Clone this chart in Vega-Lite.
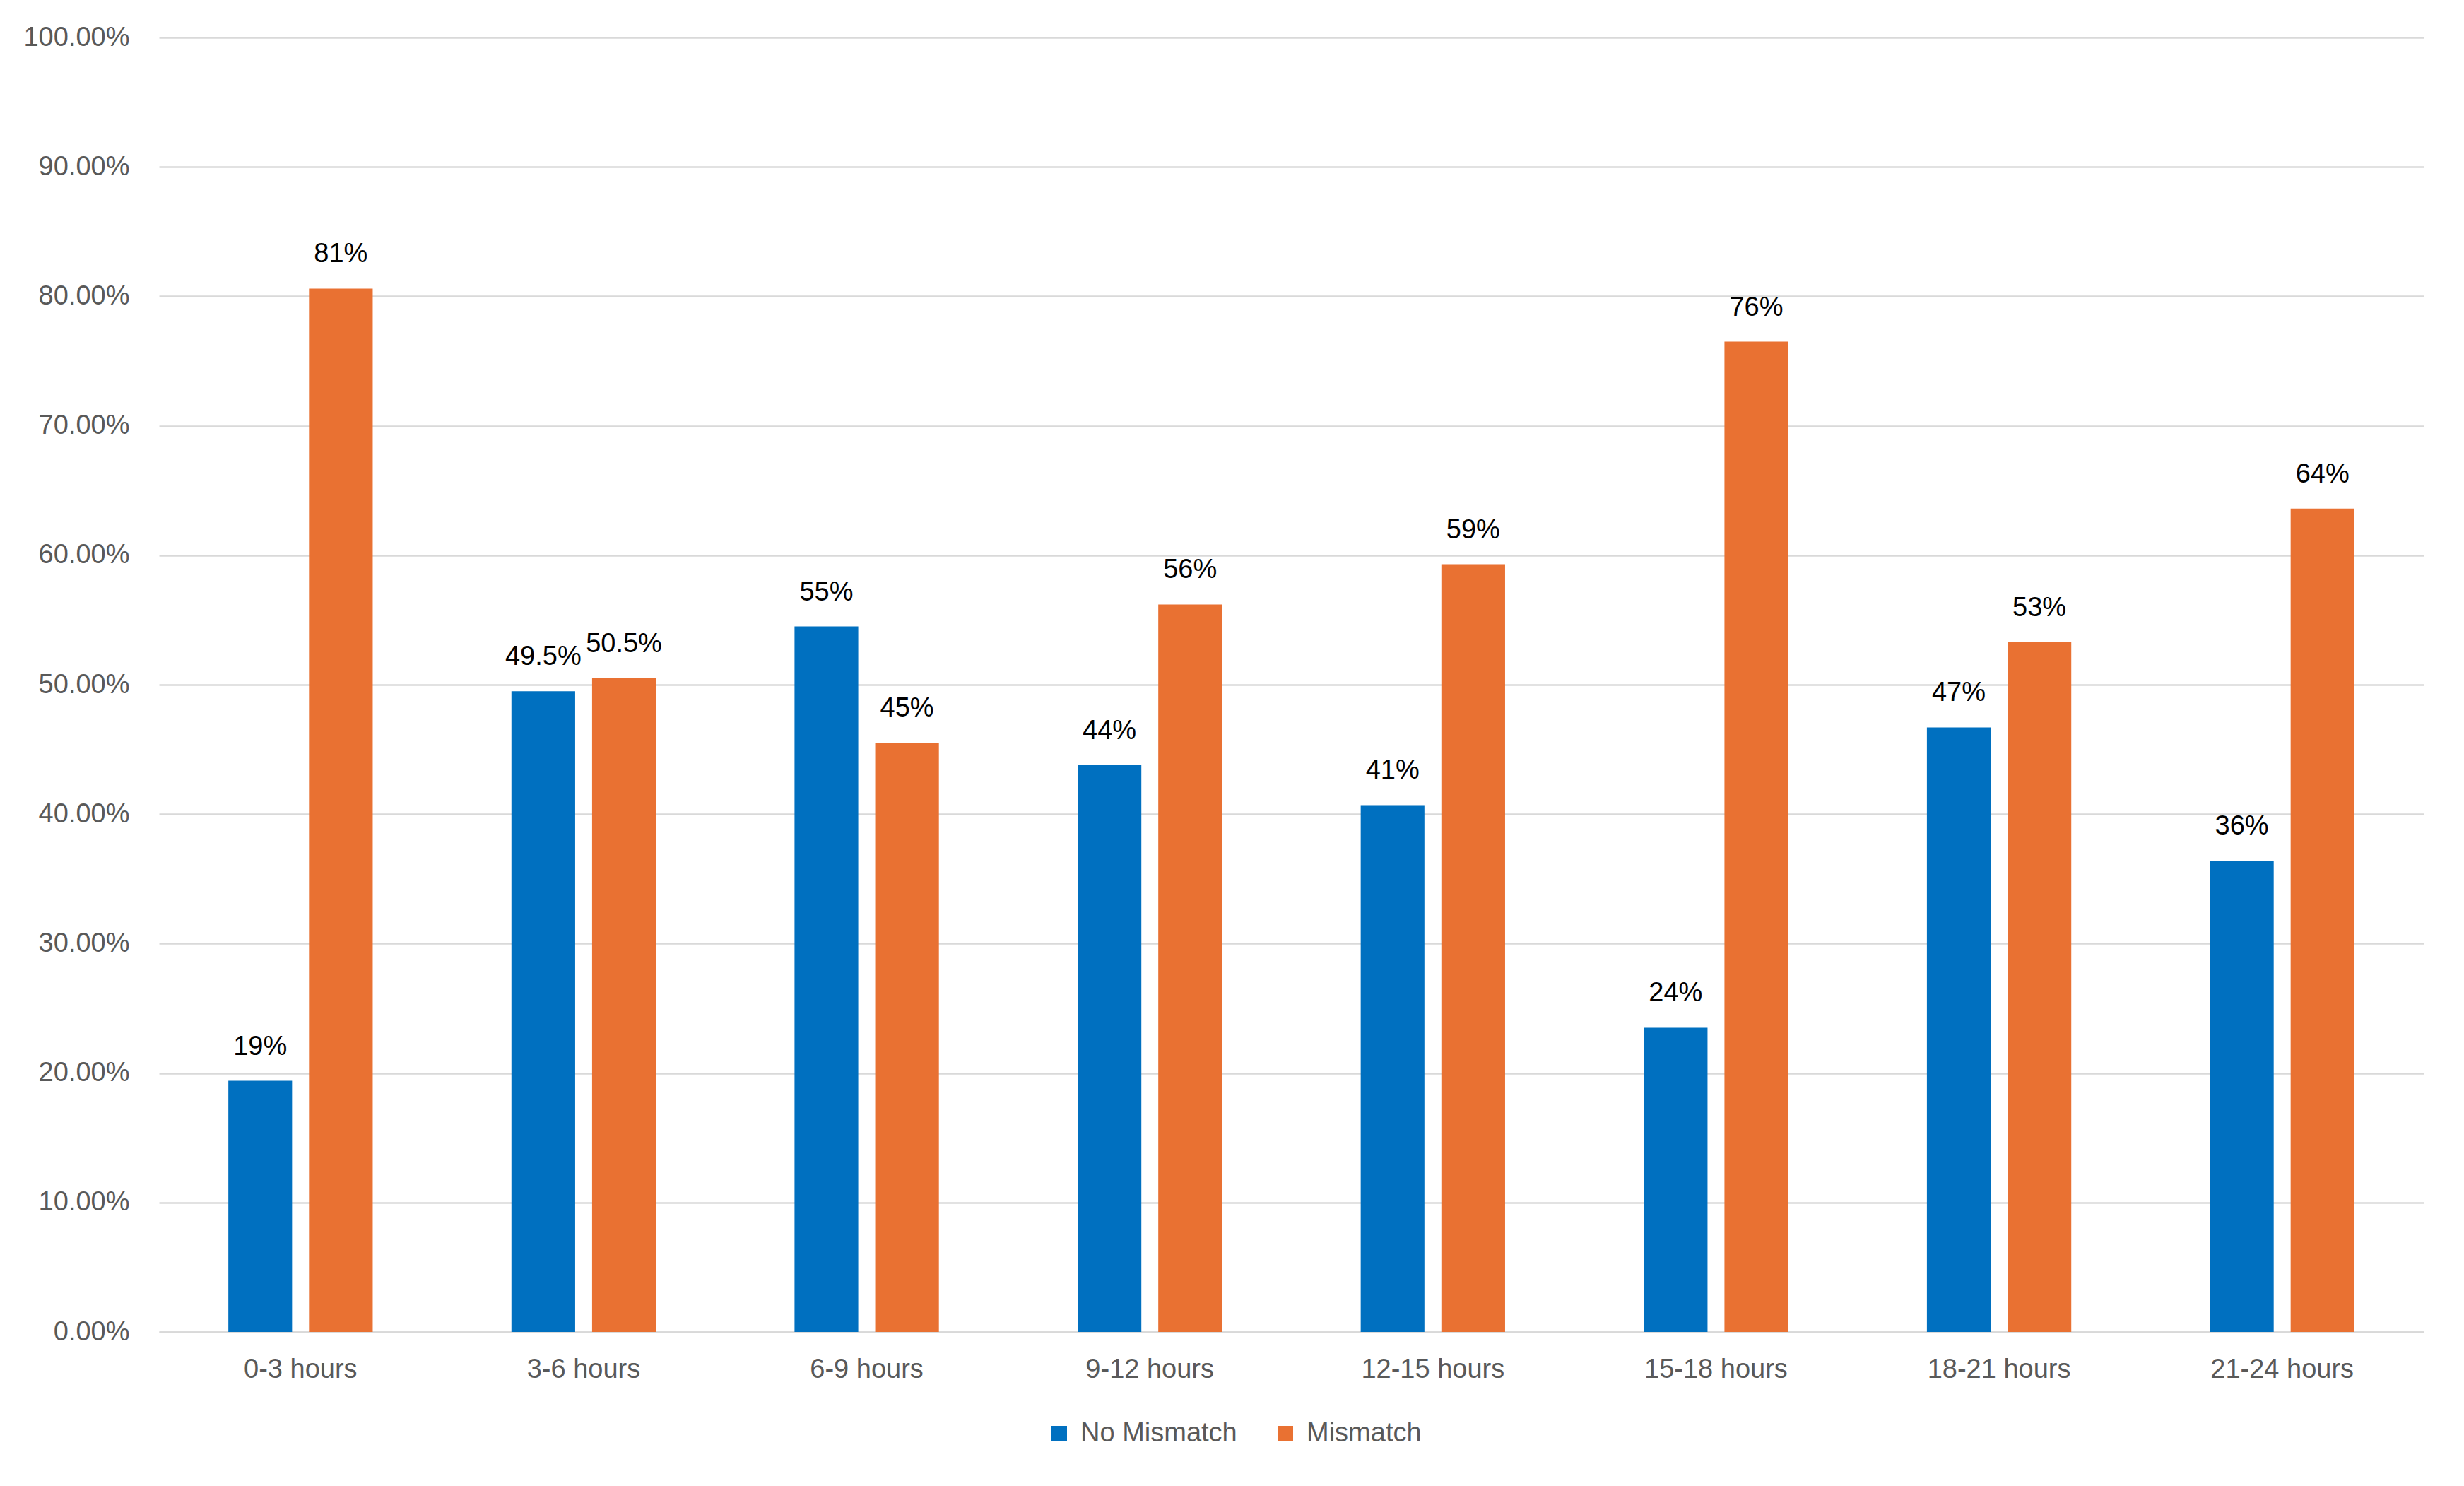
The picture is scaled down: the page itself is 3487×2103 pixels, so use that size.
{
  "$schema": "https://vega.github.io/schema/vega-lite/v6.json",
  "autosize": {"type": "none"},
  "width": 3205,
  "height": 1832,
  "padding": {"left": 225, "top": 53, "right": 57, "bottom": 218},
  "background": "white",
  "config": {
    "view": {"stroke": null},
    "font": "Liberation Sans",
    "axis": {"labelFont": "Liberation Sans", "labelColor": "#595959", "labelFontSize": 38, "labelLimit": 0}
  },
  "data": {
    "values": [
      {"period": "0-3 hours", "series": "No Mismatch", "value": 0.194, "label": "19%"},
      {"period": "0-3 hours", "series": "Mismatch", "value": 0.806, "label": "81%"},
      {"period": "3-6 hours", "series": "No Mismatch", "value": 0.495, "label": "49.5%"},
      {"period": "3-6 hours", "series": "Mismatch", "value": 0.505, "label": "50.5%"},
      {"period": "6-9 hours", "series": "No Mismatch", "value": 0.545, "label": "55%"},
      {"period": "6-9 hours", "series": "Mismatch", "value": 0.455, "label": "45%"},
      {"period": "9-12 hours", "series": "No Mismatch", "value": 0.438, "label": "44%"},
      {"period": "9-12 hours", "series": "Mismatch", "value": 0.562, "label": "56%"},
      {"period": "12-15 hours", "series": "No Mismatch", "value": 0.407, "label": "41%"},
      {"period": "12-15 hours", "series": "Mismatch", "value": 0.593, "label": "59%"},
      {"period": "15-18 hours", "series": "No Mismatch", "value": 0.235, "label": "24%"},
      {"period": "15-18 hours", "series": "Mismatch", "value": 0.765, "label": "76%"},
      {"period": "18-21 hours", "series": "No Mismatch", "value": 0.467, "label": "47%"},
      {"period": "18-21 hours", "series": "Mismatch", "value": 0.533, "label": "53%"},
      {"period": "21-24 hours", "series": "No Mismatch", "value": 0.364, "label": "36%"},
      {"period": "21-24 hours", "series": "Mismatch", "value": 0.636, "label": "64%"}
    ]
  },
  "encoding": {
    "x": {
      "field": "period", "type": "nominal", "sort": null,
      "scale": {"paddingInner": 0.49, "paddingOuter": 0.245},
      "axis": {"title": null, "labelAngle": 0, "ticks": false, "domain": true, "domainColor": "#d9d9d9", "domainWidth": 2.5, "labelPadding": 34, "labelLimit": 0}
    },
    "xOffset": {
      "field": "series", "type": "nominal", "sort": ["No Mismatch", "Mismatch"],
      "scale": {"paddingInner": 0.21, "paddingOuter": 0}
    },
    "y": {
      "field": "value", "type": "quantitative",
      "scale": {"domain": [0, 1], "nice": false},
      "axis": {"title": null, "format": ".2%", "values": [0, 0.1, 0.2, 0.3, 0.4, 0.5, 0.6, 0.7, 0.8, 0.9, 1.0], "ticks": false, "domain": false, "grid": true, "gridColor": "#d9d9d9", "gridWidth": 2.5, "labelPadding": 42}
    }
  },
  "layer": [
    {
      "mark": {"type": "bar"},
      "encoding": {
        "color": {
          "field": "series", "type": "nominal",
          "sort": ["No Mismatch", "Mismatch"],
          "scale": {"domain": ["No Mismatch", "Mismatch"], "range": ["#0070C0", "#E97132"]},
          "legend": {
            "title": null, "orient": "none", "direction": "horizontal",
            "legendX": 1255, "legendY": 1957,
            "symbolType": "square", "symbolSize": 484, "symbolStrokeWidth": 0,
            "labelFont": "Liberation Sans", "labelFontSize": 38, "labelColor": "#595959",
            "labelOffset": 11, "columnPadding": 49, "labelLimit": 0
          }
        }
      }
    },
    {
      "mark": {"type": "text", "baseline": "alphabetic", "dy": -37, "fontSize": 38, "color": "#000000", "font": "Liberation Sans"},
      "encoding": {"text": {"field": "label"}}
    }
  ]
}
